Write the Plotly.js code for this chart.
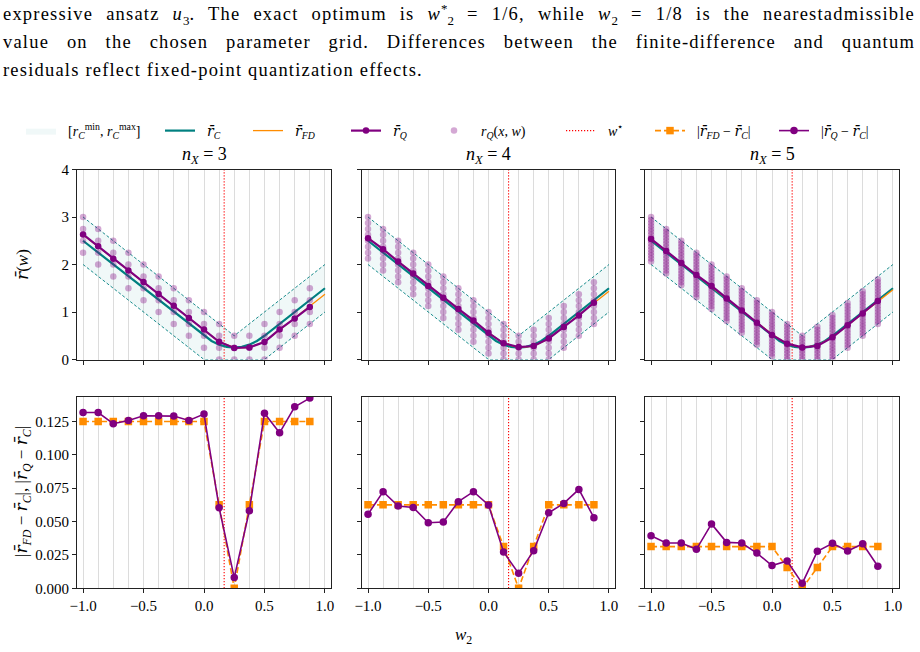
<!DOCTYPE html>
<html>
<head>
<meta charset="utf-8">
<script src="https://cdn.plot.ly/plotly-3.0.1.min.js"></script>
<style>
  html, body { margin:0; padding:0; background:#fff; }
  #wrap { position:relative; width:920px; height:652px; overflow:hidden; }
  #chart { position:absolute; left:0; top:0; width:920px; height:652px; }
  #caption { position:absolute; left:3px; top:0; width:912px; z-index:10;
             font-family:"Liberation Serif", serif; font-size:18.5px; letter-spacing:1.2px; color:#000; }
  #caption div { height:28px; line-height:28px; white-space:nowrap; overflow:visible; }
  #caption .j { text-align:justify; text-align-last:justify; white-space:normal; }
  #caption sub, #caption sup { line-height:0; font-size:70%; letter-spacing:0; }
</style>
</head>
<body>
<div id="wrap">
  <div id="chart"></div>
  <div id="caption">
    <div class="j">expressive ansatz <i>u</i><sub>3</sub>. The exact optimum is <i>w</i><sup>*</sup><sub>2</sub> = 1/6, while <i>w</i><sub>2</sub> = 1/8 is the nearestadmissible</div>
    <div class="j">value on the chosen parameter grid. Differences between the finite-difference and quantum</div>
    <div>residuals reflect fixed-point quantization effects.</div>
  </div>
</div>
<script>
// ---------------- DATA ----------------
const PANEL_NX = ["3", "4", "5"];
const W_STAR = 1/6;

// parameter grid (w2 values)
const W_GRID = [-1, -0.875, -0.75, -0.625, -0.5, -0.375, -0.25, -0.125, 0, 0.125, 0.25, 0.375, 0.5, 0.625, 0.75, 0.875];
const W_GRID_FULL = [-1, -0.875, -0.75, -0.625, -0.5, -0.375, -0.25, -0.125, 0, 0.125, 0.25, 0.375, 0.5, 0.625, 0.75, 0.875, 1];

// classical residual band [r_C^min, r_C^max] (vertices)
const BAND_W = [-1, 0, 0.25, 0.5, 1];
const BAND_MAX = [3, 1, 0.5, 1, 2];
const BAND_MIN = [2, 0, 0, 0, 1];

// mean classical residual r̄_C
const RC_W = [-1, -0.875, -0.75, -0.625, -0.5, -0.375, -0.25, -0.125, 0, 0.0625, 0.125, 0.1875, 0.25, 0.3125, 0.375, 0.4375, 0.5, 0.625, 0.75, 0.875, 1];
const RC = [2.5, 2.25, 2.0, 1.75, 1.5, 1.25, 1.0, 0.75, 0.5, 0.39, 0.3125, 0.266, 0.25, 0.266, 0.3125, 0.39, 0.5, 0.75, 1.0, 1.25, 1.5];

// finite-difference residual r̄_FD (on W_GRID_FULL)
const RFD_3 = [2.625, 2.375, 2.125, 1.875, 1.625, 1.375, 1.125, 0.875, 0.625, 0.375, 0.25, 0.25, 0.375, 0.625, 0.875, 1.125, 1.375];
const RFD_4 = [2.5625, 2.3125, 2.0625, 1.8125, 1.5625, 1.3125, 1.0625, 0.8125, 0.5625, 0.344, 0.25, 0.281, 0.4375, 0.6875, 0.9375, 1.1875, 1.4375];
const RFD_5 = [2.531, 2.281, 2.031, 1.781, 1.531, 1.281, 1.031, 0.781, 0.531, 0.328, 0.25, 0.297, 0.469, 0.719, 0.969, 1.219, 1.469];

// quantum mean residual r̄_Q (on W_GRID)
const RQ_3 = [2.632, 2.382, 2.123, 1.876, 1.629, 1.379, 1.129, 0.876, 0.631, 0.373, 0.242, 0.254, 0.369, 0.633, 0.864, 1.107];
const RQ_4 = [2.555, 2.322, 2.062, 1.811, 1.549, 1.300, 1.065, 0.822, 0.562, 0.340, 0.261, 0.284, 0.443, 0.686, 0.926, 1.197];
const RQ_5 = [2.539, 2.284, 2.034, 1.779, 1.548, 1.284, 1.034, 0.776, 0.517, 0.333, 0.254, 0.285, 0.466, 0.722, 0.967, 1.234];

// quantized samples r_Q(x,w): integer levels per grid column, in units of QSTEP
const QSTEP_3 = 0.25, QSTEP_4 = 0.125, QSTEP_5 = 0.0625;
const RQX_3 = [[12,11,10,9],[11,10,9,8],[10,9,8,7],[9,8,7,6],[8,7,6,5],[7,6,5,4],[6,5,4,3],[5,4,3,2],[4,3,2,1],[3,2,1,0],[2,1,0],[2,1,0],[3,2,1,0],[4,3,2,1],[5,4,3,2],[6,5,4,3]];
const RQX_4 = [[24,23,22,21,20,19,18,17],[22,21,20,19,18,17,16,15],[20,19,18,17,16,15,14,13],[18,17,16,15,14,13,12,11],
  [16,15,14,13,12,11,10,9],[14,13,12,11,10,9,8,7],[12,11,10,9,8,7,6,5],[10,9,8,7,6,5,4,3],[8,7,6,5,4,3,2,1],
  [6,5,4,3,2,1,0],[4,3,2,1,0],[5,4,3,2,1,0],[7,6,5,4,3,2,1,0],[9,8,7,6,5,4,3,2],[11,10,9,8,7,6,5,4],[13,12,11,10,9,8,7,6]];
const RQX_5 = [
  [48,47,46,45,44,43,42,41,40,39,38,37,36,35,34,33],
  [44,43,42,41,40,39,38,37,36,35,34,33,32,31,30,29],
  [40,39,38,37,36,35,34,33,32,31,30,29,28,27,26,25],
  [36,35,34,33,32,31,30,29,28,27,26,25,24,23,22,21],
  [32,31,30,29,28,27,26,25,24,23,22,21,20,19,18,17],
  [28,27,26,25,24,23,22,21,20,19,18,17,16,15,14,13],
  [24,23,22,21,20,19,18,17,16,15,14,13,12,11,10,9],
  [20,19,18,17,16,15,14,13,12,11,10,9,8,7,6,5],
  [16,15,14,13,12,11,10,9,8,7,6,5,4,3,2,1],
  [12,11,10,9,8,7,6,5,4,3,2,1,0],
  [8,7,6,5,4,3,2,1,0],
  [11,10,9,8,7,6,5,4,3,2,1,0],
  [15,14,13,12,11,10,9,8,7,6,5,4,3,2,1,0],
  [19,18,17,16,15,14,13,12,11,10,9,8,7,6,5,4],
  [23,22,21,20,19,18,17,16,15,14,13,12,11,10,9,8],
  [27,26,25,24,23,22,21,20,19,18,17,16,15,14,13,12]];

// absolute differences (bottom row, on W_GRID)
const DFD_3 = [0.125,0.125,0.125,0.125,0.125,0.125,0.125,0.125,0.125,0.0625,0,0.0625,0.125,0.125,0.125,0.125];
const DQ_3  = [0.1317,0.1317,0.1233,0.1257,0.1292,0.1292,0.129,0.1257,0.1305,0.0604,0.008,0.0581,0.1312,0.1165,0.136,0.1425];
const DFD_4 = [0.0625,0.0625,0.0625,0.0625,0.0625,0.0625,0.0625,0.0625,0.0625,0.03125,0,0.03125,0.0625,0.0625,0.0625,0.0625];
const DQ_4  = [0.0554,0.0724,0.0616,0.0606,0.0491,0.0497,0.0649,0.0724,0.0624,0.0272,0.0112,0.0282,0.0566,0.0636,0.0741,0.0529];
const DFD_5 = [0.03125,0.03125,0.03125,0.03125,0.03125,0.03125,0.03125,0.03125,0.03125,0.015625,0,0.015625,0.03125,0.03125,0.03125,0.03125];
const DQ_5  = [0.0394,0.0339,0.0339,0.0292,0.0482,0.0344,0.0339,0.0264,0.017,0.0205,0.0037,0.0277,0.0337,0.0279,0.0334,0.0165];

const X_TICKS = [-1, -0.5, 0, 0.5, 1];
const X_TICK_TEXT = ['−1.0', '−0.5', '0.0', '0.5', '1.0'];
const Y_RANGE_TOP = [0, 4];
const Y_TICKS_TOP = [0, 1, 2, 3, 4];
const Y_TICKS_BOT = [0, 0.025, 0.05, 0.075, 0.1, 0.125];

// ---------------- STYLE ----------------
const TEAL = '#008080', ORANGE = '#FF8C00', PURPLE = '#800080';
const FONT = 'Liberation Serif, serif';
const RB = '<span style="font-family:DejaVu Serif">r̄</span>';
const SP = '\u2002';
const LEG_NAMES = [
  SP + '[<i>r</i><sub><i>C</i></sub><sup>min</sup>, <i>r</i><sub><i>C</i></sub><sup>max</sup>]',
  SP + '<i>' + RB + '</i><sub><i>C</i></sub>',
  SP + '<i>' + RB + '</i><sub><i>FD</i></sub>',
  SP + '<i>' + RB + '</i><sub><i>Q</i></sub>',
  SP + '<i>r</i><sub><i>Q</i></sub>(<i>x</i>, <i>w</i>)',
  SP + '<i>w</i><sup>⋆</sup>',
  SP + '|<i>' + RB + '</i><sub><i>FD</i></sub> − <i>' + RB + '</i><sub><i>C</i></sub>|',
  SP + '|<i>' + RB + '</i><sub><i>Q</i></sub> − <i>' + RB + '</i><sub><i>C</i></sub>|'
];
const LEG_X = [21, 160, 248, 346, 434, 561, 650, 774];

const panels = [
  {rfd: RFD_3, rq: RQ_3, rqx: RQX_3, step: QSTEP_3, dfd: DFD_3, dq: DQ_3},
  {rfd: RFD_4, rq: RQ_4, rqx: RQX_4, step: QSTEP_4, dfd: DFD_4, dq: DQ_4},
  {rfd: RFD_5, rq: RQ_5, rqx: RQX_5, step: QSTEP_5, dfd: DFD_5, dq: DQ_5}
];

const XDOM = [[77/920, 331/920], [362/920, 615/920], [645/920, 899/920]];
const YDOM_TOP = [1 - 359.5/652, 1 - 169.5/652];
const YDOM_BOT = [1 - 588.3/652, 1 - 397/652];
const RED_DOT = {color: '#ff0000', width: 1.1, dash: '1.2px,1.8px'};

const traces = [];
const shapes = [];
const annotations = [];
const layout = {
  width: 920, height: 652,
  margin: {l:0, r:0, t:0, b:0},
  paper_bgcolor: '#fff', plot_bgcolor: '#fff',
  font: {family: FONT, size: 14, color: '#000'},
  showlegend: true
};

panels.forEach((p, i) => {
  const top = i + 1, bot = i + 4;
  const xa = 'x' + (top === 1 ? '' : top), ya = 'y' + (top === 1 ? '' : top);
  const xb = 'x' + bot, yb = 'y' + bot;
  const first = i === 0;

  // band fill
  traces.push({x: BAND_W, y: BAND_MIN, xaxis: xa, yaxis: ya, mode: 'lines',
    line: {width: 0}, showlegend: false, hoverinfo: 'skip'});
  traces.push({x: BAND_W, y: BAND_MAX, xaxis: xa, yaxis: ya, mode: 'lines', fill: 'tonexty',
    fillcolor: 'rgba(0,128,128,0.06)', line: {width: 0},
    name: LEG_NAMES[0], showlegend: first, legend: 'legend'});
  // band bounds
  [BAND_MIN, BAND_MAX].forEach(b => traces.push({x: BAND_W, y: b, xaxis: xa, yaxis: ya, mode: 'lines',
    line: {color: TEAL, width: 0.9, dash: '3px,2px'}, showlegend: false}));
  // w* (top)
  traces.push({x: [W_STAR, W_STAR], y: Y_RANGE_TOP, xaxis: xa, yaxis: ya, mode: 'lines',
    line: RED_DOT, name: LEG_NAMES[5], showlegend: first, legend: 'legend6'});
  // r̄_C
  traces.push({x: RC_W, y: RC, xaxis: xa, yaxis: ya, mode: 'lines',
    line: {color: TEAL, width: 2.2}, name: LEG_NAMES[1], showlegend: first, legend: 'legend2'});
  // r̄_FD
  traces.push({x: W_GRID_FULL, y: p.rfd, xaxis: xa, yaxis: ya, mode: 'lines',
    line: {color: ORANGE, width: 1.3}, name: LEG_NAMES[2], showlegend: first, legend: 'legend3'});
  // r_Q(x,w) samples
  const sx = [], sy = [];
  p.rqx.forEach((col, k) => col.forEach(lv => { sx.push(W_GRID[k]); sy.push(lv * p.step); }));
  traces.push({x: sx, y: sy, xaxis: xa, yaxis: ya, mode: 'markers',
    marker: {color: 'rgba(128,0,128,0.34)', size: 6.5, line: {width: 0}},
    name: LEG_NAMES[4], showlegend: first, legend: 'legend5'});
  // r̄_Q
  traces.push({x: W_GRID, y: p.rq, xaxis: xa, yaxis: ya, mode: 'lines+markers',
    line: {color: PURPLE, width: 2.2}, marker: {color: PURPLE, size: 6.5},
    name: LEG_NAMES[3], showlegend: first, legend: 'legend4'});

  // bottom row
  shapes.push({type: 'line', xref: xb, yref: yb + ' domain', x0: W_STAR, x1: W_STAR, y0: 0, y1: 1,
      line: RED_DOT, layer: 'below'});
  traces.push({x: W_GRID, y: p.dfd, xaxis: xb, yaxis: yb, mode: 'lines+markers',
    line: {color: ORANGE, width: 1.6, dash: '6px,3px'}, marker: {color: ORANGE, symbol: 'square', size: 7.5},
    name: LEG_NAMES[6], showlegend: first, legend: 'legend7'});
  traces.push({x: W_GRID, y: p.dq, xaxis: xb, yaxis: yb, mode: 'lines+markers',
    line: {color: PURPLE, width: 1.6}, marker: {color: PURPLE, size: 7.5},
    name: LEG_NAMES[7], showlegend: first, legend: 'legend8'});

  const xCommon = {
    range: [-1.05, 1.05], tickmode: 'array', tickvals: X_TICKS, ticktext: X_TICK_TEXT,
    showgrid: true, gridcolor: '#dcdcdc', gridwidth: 1,
    minor: {tickmode: 'linear', tick0: 0, dtick: 0.125, showgrid: true, gridcolor: '#dcdcdc', gridwidth: 1, ticks: ''},
    zeroline: false, showline: true, linecolor: '#222', linewidth: 1, mirror: true,
    ticks: 'outside', ticklen: 4, tickwidth: 1, tickcolor: '#222',
    tickfont: {family: FONT, size: 15}
  };
  layout['xaxis' + (top === 1 ? '' : top)] = Object.assign({}, xCommon, {domain: XDOM[i], anchor: ya, showticklabels: false});
  layout['xaxis' + bot] = Object.assign({}, xCommon, {domain: XDOM[i], anchor: yb, showticklabels: true});
  const yCommon = {zeroline: false, showgrid: false, showline: true, linecolor: '#222', linewidth: 1, mirror: true,
    ticks: 'outside', ticklen: 4, tickwidth: 1, tickcolor: '#222', tickfont: {family: FONT, size: 15}};
  layout['yaxis' + (top === 1 ? '' : top)] = Object.assign({}, yCommon, {domain: YDOM_TOP, anchor: xa,
    range: Y_RANGE_TOP, tickmode: 'array', tickvals: Y_TICKS_TOP, showticklabels: first});
  layout['yaxis' + bot] = Object.assign({}, yCommon, {domain: YDOM_BOT, anchor: xb,
    range: [0, 0.1433], tickmode: 'array', tickvals: Y_TICKS_BOT, tickformat: '.3f', showticklabels: first});

  annotations.push({text: '<i>n</i><sub><i>X</i></sub> = ' + PANEL_NX[i], xref: 'paper', yref: 'paper',
    x: (XDOM[i][0] + XDOM[i][1]) / 2, y: 1 - 156/652, xanchor: 'center', yanchor: 'middle',
    showarrow: false, font: {family: FONT, size: 18}});
});

annotations.push({text: '<i>' + RB + '</i>(<i>w</i>)', xref: 'paper', yref: 'paper', x: 22/920, y: 1 - 265/652,
  textangle: -90, showarrow: false, xanchor: 'center', yanchor: 'middle', font: {family: FONT, size: 17}});
annotations.push({text: '|<i>' + RB + '</i><sub><i>FD</i></sub> − <i>' + RB + '</i><sub><i>C</i></sub>|, |<i>' + RB + '</i><sub><i>Q</i></sub> − <i>' + RB + '</i><sub><i>C</i></sub>|',
  xref: 'paper', yref: 'paper', x: 22/920, y: 1 - 492/652,
  textangle: -90, showarrow: false, xanchor: 'center', yanchor: 'middle', font: {family: FONT, size: 17}});
annotations.push({text: '<i>w</i><sub>2</sub>', xref: 'paper', yref: 'paper', x: 463/920, y: 1 - 636/652,
  showarrow: false, xanchor: 'center', yanchor: 'middle', font: {family: FONT, size: 17}});

LEG_X.forEach((lx, k) => {
  const key = k === 0 ? 'legend' : 'legend' + (k + 1);
  layout[key] = {x: lx / 920, y: 1 - 131/652, xanchor: 'left', yanchor: 'middle', orientation: 'h',
    bgcolor: 'rgba(0,0,0,0)', borderwidth: 0, font: {family: FONT, size: 14}, itemwidth: 30};
});

layout.shapes = shapes;
layout.annotations = annotations;

Plotly.newPlot('chart', traces, layout, {displayModeBar: false, staticPlot: true});
</script>
</body>
</html>
